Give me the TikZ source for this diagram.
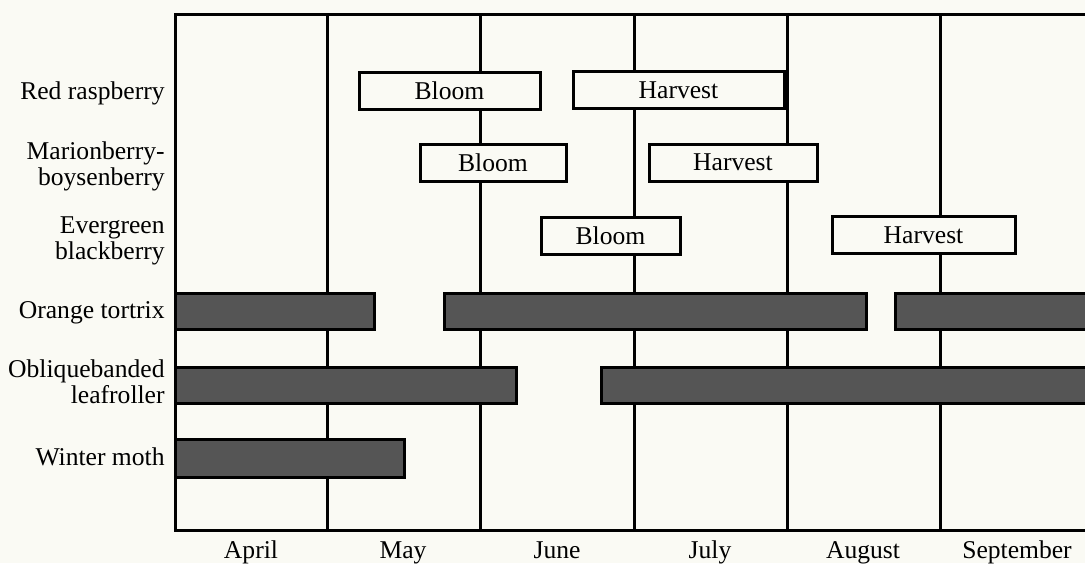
\documentclass[tikz,border=0pt]{standalone}
\usepackage{fontspec}
\setmainfont{Liberation Serif}
\definecolor{paper}{RGB}{250,250,244}
\definecolor{barfill}{RGB}{85,85,85}
\begin{document}
\begin{tikzpicture}[
    x=0.5pt, y=-0.5pt,
    every node/.style={font=\fontsize{12.8}{13}\selectfont},
    grid line/.style={draw, line width=1.5pt},
    phase box/.style={draw, line width=1.5pt, fill=paper, inner sep=0pt, minimum height=18.5pt},
    pest bar/.style={draw, line width=1.5pt, fill=barfill},
    row label/.style={anchor=base east, align=right, inner sep=0pt},
    month label/.style={anchor=base},
    ]
\fill[paper] (0,0) rectangle (1085,563);
\useasboundingbox (0,0) rectangle (1085,563);
\clip (0,0) rectangle (1085,563);
% frame and month lines
\draw[grid line] (1100,14) -- (175,14) -- (175,530) -- (1100,530);
\foreach \gx in {327,480,634,787,940}
  \draw[grid line] (\gx,14) -- (\gx,530);
% row labels (base = last line)
\node[row label] (rr) at (165,99) {Red raspberry};
\node[row label] (mb) at (165,185) {Marionberry-\\boysenberry};
\node[row label] (eb) at (165,259) {Evergreen\\blackberry};
\node[row label] (ot) at (165,318) {Orange tortrix};
\node[row label] (ol) at (165,403) {Obliquebanded\\leafroller};
\node[row label] (wm) at (165,465) {Winter moth};
% bloom and harvest
\node[phase box, minimum width=90.5pt] (rrBloom) at (449.5,90.5) {Bloom};
\node[phase box, minimum width=105.5pt] (rrHarvest) at (678.5,90) {Harvest};
\node[phase box, minimum width=73pt] (mbBloom) at (493,163) {Bloom};
\node[phase box, minimum width=84pt] (mbHarvest) at (733,162.5) {Harvest};
\node[phase box, minimum width=69.5pt] (ebBloom) at (610.5,236) {Bloom};
\node[phase box, minimum width=91.5pt] (ebHarvest) at (923.5,235) {Harvest};
% pest activity
\draw[pest bar] (175,293) rectangle (374,329);
\draw[pest bar] (444,293) rectangle (866,329);
\draw[pest bar] (895,293) rectangle (1100,329);
\draw[pest bar] (175,367) rectangle (516,403);
\draw[pest bar] (601,367) rectangle (1100,403);
\draw[pest bar] (175,439) rectangle (404,477);
% months
\node[month label] (apr) at (251,558) {April};
\node[month label] (may) at (403,558) {May};
\node[month label] (jun) at (557,558) {June};
\node[month label] (jul) at (710,558) {July};
\node[month label] (aug) at (863,558) {August};
\node[month label] (sep) at (1017,558) {September};
\end{tikzpicture}
\end{document}
